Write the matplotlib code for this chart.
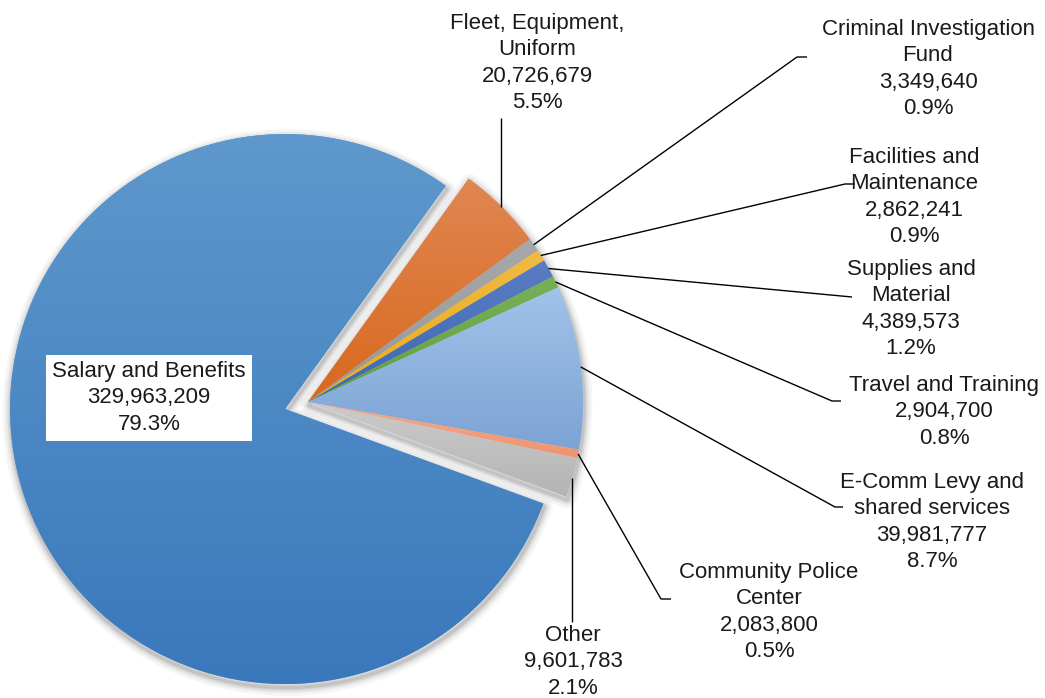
import numpy as np
import matplotlib.pyplot as plt
from matplotlib.patches import Wedge
from matplotlib.colors import LinearSegmentedColormap

plt.rcParams['font.family'] = ['Liberation Sans', 'DejaVu Sans']

categories = ["Salary and Benefits", "Fleet, Equipment,\nUniform", "Criminal Investigation\nFund",
              "Facilities and\nMaintenance", "Supplies and\nMaterial", "Travel and Training",
              "E-Comm Levy and\nshared services", "Community Police\nCenter", "Other"]
amounts = [329963209, 20726679, 3349640, 2862241, 4389573, 2904700, 39981777, 2083800, 9601783]
pct_labels = ["79.3%", "5.5%", "0.9%", "0.9%", "1.2%", "0.8%", "8.7%", "0.5%", "2.1%"]

# gradient colours, top -> bottom
top_colors = ["#5E98CC", "#E08652", "#A8A8A8", "#F1BA45", "#5A7DC4",
              "#78B058", "#A2C3E9", "#F5AB8D", "#CBCBCB"]
bottom_colors = ["#3A78BC", "#D8691E", "#989898", "#E9AD10", "#3E66B4",
                 "#62A03F", "#7BA3D4", "#EE9470", "#B4B4B4"]

W, H = 1045, 698
fig = plt.figure(figsize=(W / 100, H / 100), dpi=100)
ax = fig.add_axes([0, 0, 1, 1])

cx, cy, R = 308, H - 402, 275
explode = [24] + [0] * 8

wedges, _ = ax.pie(amounts, startangle=-20.1, counterclock=False, center=(cx, cy),
                   radius=R, explode=explode, colors=top_colors,
                   wedgeprops=dict(linewidth=0, zorder=3))

# soft shadow: one for the exploded slice, one for the rest of the pie
w0 = wedges[0]
rest_t1 = min(w.theta1 for w in wedges[1:])
rest_t2 = max(w.theta2 for w in wedges[1:])
shadow_shapes = [(w0.center, w0.theta1, w0.theta2), ((cx, cy), rest_t1, rest_t2)]
for center, t1, t2 in shadow_shapes:
    for lw, a in [(12, 0.04), (8, 0.05), (5, 0.07), (2.5, 0.09)]:
        sh = Wedge((center[0] + 1, center[1] - 3.5), R, t1, t2, facecolor='none',
                   edgecolor='black', linewidth=lw, alpha=a, zorder=1, joinstyle='round')
        ax.add_patch(sh)

grad = np.linspace(0, 1, 256).reshape(-1, 1)
for w, c_top, c_bot in zip(wedges, top_colors, bottom_colors):
    x0, y0, x1, y1 = w.get_path().get_extents().extents
    cmap = LinearSegmentedColormap.from_list('g', [c_bot, c_top])
    im = ax.imshow(grad, cmap=cmap, extent=(x0, x1, y0, y1), origin='lower',
                   aspect='auto', interpolation='bilinear', zorder=4)
    im.set_clip_path(w)

# label layout in pixel coordinates (x centre, y centre of text block)
label_pos = [(149, 398), (537, 63), (928, 69), (914, 197), (911, 309),
             (944, 412), (932, 522), (769, 612), (573, 662)]
# leader line elbows / ends (pixels); None -> vertical line to that y
leader_pts = [None,
              [(None, 118)],
              [(797, 57), (807, 57)],
              [(845, 184), (855, 184)],
              [(852, 297)],
              [(832, 401), (841, 401)],
              [(835, 507), (843, 507)],
              [(661, 599), (671, 599)],
              [(None, 622)]]

for i, w in enumerate(wedges):
    txt = f"{categories[i]}\n{amounts[i]:,}\n{pct_labels[i]}"
    lx, ly = label_pos[i]
    kw = dict(ha='center', va='center', fontsize=16, linespacing=1.33,
              multialignment='center', color='#1a1a1a', zorder=6)
    if i == 0:
        kw['bbox'] = dict(facecolor='white', edgecolor='none', boxstyle='square,pad=0.3')
    ax.text(lx, H - ly, txt, **kw)

    if leader_pts[i] is None:
        continue
    thm = np.deg2rad((w.theta1 + w.theta2) / 2)
    sx = w.center[0] + R * np.cos(thm)
    sy = w.center[1] + R * np.sin(thm)
    xs, ys = [sx], [sy]
    for px, py in leader_pts[i]:
        xs.append(sx if px is None else px)
        ys.append(H - py)
    ax.plot(xs, ys, color='black', lw=1.0, zorder=5, solid_capstyle='butt')

ax.set_xlim(0, W)
ax.set_ylim(0, H)
ax.set_aspect('equal')
ax.axis('off')

fig.savefig('out.png', dpi=100, facecolor='white')
